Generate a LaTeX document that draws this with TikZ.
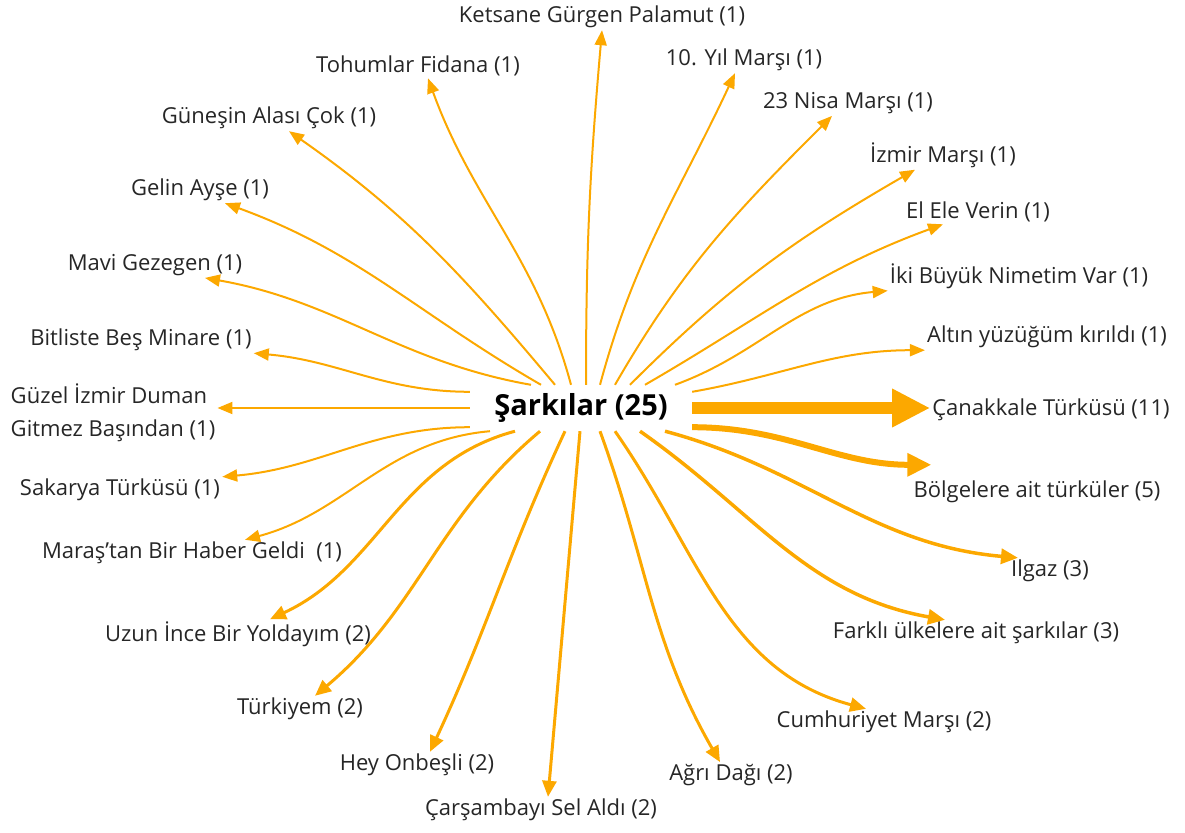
\documentclass[tikz,border=0pt]{standalone}
\usepackage{fontspec}
\setmainfont{Open Sans}
\usetikzlibrary{arrows.meta}
\definecolor{ora}{RGB}{252,168,0}
\tikzstyle{lb} = [inner sep=2pt, font=\fontsize{22}{33}\selectfont, text=black!85]
\tikzstyle{w1} = [draw=ora, line width=2pt, -{Triangle[length=15pt,width=12pt]}]
\tikzstyle{w2} = [draw=ora, line width=3pt, -{Triangle[length=16pt,width=14pt]}]
\tikzstyle{w3} = [draw=ora, line width=3.5pt, -{Triangle[length=17pt,width=15pt]}]
\tikzstyle{w5} = [draw=ora, line width=6pt, -{Triangle[length=24pt,width=22pt]}]
\tikzstyle{w11} = [draw=ora, line width=12pt, -{Triangle[length=38pt,width=36pt]}]

\begin{document}
\begin{tikzpicture}[x=1pt,y=1pt]
  \useasboundingbox (0,0) rectangle (1185,-832);
  \node[inner sep=0, minimum width=222pt, minimum height=46pt,
        font=\fontsize{29}{32}\selectfont\bfseries] (sk) at (581,-408) {Şarkılar (25)};

  \node[lb] (ket) at (602,-17)  {Ketsane Gürgen Palamut (1)};
  \node[lb] (toh) at (418,-66)  {Tohumlar Fidana (1)};
  \node[lb] (gun) at (269,-118) {Güneşin Alası Çok (1)};
  \node[lb] (gel) at (200,-190) {Gelin Ayşe (1)};
  \node[lb] (mav) at (155,-265) {Mavi Gezegen (1)};
  \node[lb] (bit) at (141,-340) {Bitliste Beş Minare (1)};
  \node[lb, align=left] (guz) at (113,-413) {Güzel İzmir Duman\\Gitmez Başından (1)};
  \node[lb] (sak) at (120,-490) {Sakarya Türküsü (1)};
  \node[lb] (mar) at (192,-553) {Maraş’tan Bir Haber Geldi\ \ (1)};
  \node[lb] (uzu) at (238,-634) {Uzun İnce Bir Yoldayım (2)};
  \node[lb] (tur) at (300,-709) {Türkiyem (2)};
  \node[lb] (hey) at (417,-765) {Hey Onbeşli (2)};
  \node[lb] (car) at (541,-810) {Çarşambayı Sel Aldı (2)};
  \node[lb] (agr) at (731,-775) {Ağrı Dağı (2)};
  \node[lb] (cum) at (884,-722) {Cumhuriyet Marşı (2)};
  \node[lb] (far) at (976,-633) {Farklı ülkelere ait şarkılar (3)};
  \node[lb] (ilg) at (1050,-571) {Ilgaz (3)};
  \node[lb] (bol) at (1037,-492) {Bölgelere ait türküler (5)};
  \node[lb] (can) at (1051,-410) {Çanakkale Türküsü (11)};
  \node[lb] (alt) at (1047,-337) {Altın yüzüğüm kırıldı (1)};
  \node[lb] (iki) at (1019,-276) {İki Büyük Nimetim Var (1)};
  \node[lb] (ele) at (978,-212) {El Ele Verin (1)};
  \node[lb] (izm) at (943,-155) {İzmir Marşı (1)};
  \node[lb] (nis) at (848,-103) {23 Nisa Marşı (1)};
  \node[lb] (yil) at (744,-60)  {10. Yıl Marşı (1)};

  % upper side
  \path ([xshift=5pt]sk.north)   edge[w1, out=90,  in=-95]  (ket.south)
        ([xshift=-10pt]sk.north) edge[w1, out=105, in=-70]  ([xshift=10pt]toh.south)
        ([xshift=-26pt]sk.north) edge[w1, out=130, in=-35]  ([xshift=20pt]gun.south)
        ([xshift=-40pt]sk.north) edge[w1, out=150, in=-20]  ([xshift=25pt]gel.south)
        ([xshift=-50pt]sk.north) edge[w1, out=170, in=-10]  ([xshift=50pt]mav.south)
        ([yshift=-7pt]sk.north west) edge[w1, out=180, in=-5] (bit.south east)
        (sk.west) edge[w1] (sk.west -| guz.east)
        ([xshift=19pt]sk.north)  edge[w1, out=75,  in=-115] ([xshift=-9pt]yil.south)
        ([xshift=34pt]sk.north)  edge[w1, out=60,  in=-135] ([xshift=-16pt]nis.south)
        ([xshift=49pt]sk.north)  edge[w1, out=45,  in=-150] ([xshift=-28pt]izm.south)
        ([xshift=64pt]sk.north)  edge[w1, out=30,  in=-160] ([xshift=-35pt]ele.south)
        ([xshift=94pt]sk.north)  edge[w1, out=20,  in=-175] (iki.south west)
        ([yshift=-7pt]sk.north east) edge[w1, out=10, in=180] (alt.south west);

  \path (sk.east) edge[w11] (sk.east -| can.west);

  % lower side
  \path ([yshift=4pt]sk.south east) edge[w5, out=0, in=180] ([shift={(20pt,14pt)}]bol.north west)
        ([xshift=84pt]sk.south)  edge[w3, out=345, in=175] ([xshift=-32pt]ilg.north)
        ([xshift=59pt]sk.south)  edge[w3, out=325, in=170] ([xshift=-31pt]far.north)
        ([xshift=34pt]sk.south)  edge[w2, out=305, in=165] ([xshift=-18pt]cum.north)
        ([xshift=19pt]sk.south)  edge[w2, out=290, in=120] ([xshift=-11pt]agr.north)
        ([xshift=-1pt]sk.south)  edge[w2, out=265, in=85]  ([xshift=7pt]car.north)
        ([xshift=-16pt]sk.south) edge[w2, out=245, in=65]  ([xshift=13pt]hey.north)
        ([xshift=-41pt]sk.south) edge[w2, out=220, in=40]  ([xshift=15pt]tur.north)
        ([xshift=-66pt]sk.south) edge[w2, out=195, in=25]  ([xshift=32pt]uzu.north)
        ([xshift=-91pt]sk.south) edge[w1, out=185, in=15]  ([xshift=53pt]mar.north)
        ([yshift=4pt]sk.south west) edge[w1, out=180, in=5] (sak.north east);
\end{tikzpicture}
\end{document}
